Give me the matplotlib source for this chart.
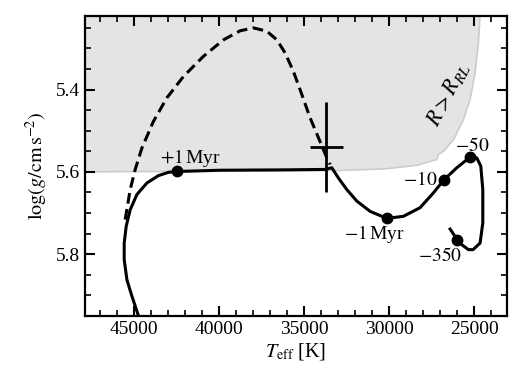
import numpy as np
import matplotlib
matplotlib.use("Agg")
import matplotlib.pyplot as plt
from matplotlib.ticker import MultipleLocator

plt.rcParams['font.family'] = ['Liberation Serif', 'DejaVu Serif']
plt.rcParams['mathtext.fontset'] = 'stix'

#%% data
# evolutionary track (solid), from -350 Myr onwards
track_teff = [26412, 25982, 25723, 25335, 25059, 24647, 24488, 24488, 24606, 24841,
              25235, 26018, 26765, 27394, 28176, 29159, 30135, 31117, 31900, 32488,
              32982, 33370, 33765, 36000, 39940, 42487, 42981, 43570, 44252, 44840,
              45234, 45469, 45587, 45587, 45429, 45134, 44746]
track_logg = [5.739, 5.765, 5.777, 5.789, 5.789, 5.773, 5.724, 5.643, 5.586, 5.566,
              5.564, 5.590, 5.619, 5.651, 5.687, 5.708, 5.713, 5.696, 5.671, 5.643,
              5.615, 5.590, 5.594, 5.595, 5.596, 5.599, 5.601, 5.609, 5.627, 5.655,
              5.692, 5.732, 5.773, 5.813, 5.862, 5.902, 5.950]

# alternative track (dashed)
dash_teff = [45529, 45234, 44940, 44546, 43864, 43076, 42099, 40923, 39746, 38764,
             37982, 37194, 36605, 36117, 35629, 35135, 34646, 34158, 33664, 33470]
dash_logg = [5.716, 5.643, 5.594, 5.542, 5.477, 5.420, 5.368, 5.319, 5.279, 5.257,
             5.250, 5.258, 5.279, 5.311, 5.356, 5.412, 5.469, 5.517, 5.566, 5.582]

# Roche-lobe boundary (R > R_RL above it)
rl_teff = [49000, 37196, 33275, 30333, 28372, 27196, 27098, 26804, 26216,
           25627, 25235, 24941, 24745, 24647, 24600]
rl_logg = [5.600, 5.598, 5.597, 5.593, 5.584, 5.570, 5.558, 5.550, 5.522,
           5.473, 5.424, 5.359, 5.286, 5.218, 5.15]

# age markers
age_teff = [42487, 30135, 26765, 25235, 25982]
age_logg = [5.599, 5.713, 5.619, 5.564, 5.765]
age_labels = [r'$+1\,$Myr', r'$-1\,$Myr', r'$-10$', r'$-50$', r'$-350$']
lab_teff = [41705, 30882, 27150, 25100, 27000]
lab_logg = [5.566, 5.752, 5.619, 5.536, 5.805]
lab_ha = ['center', 'center', 'right', 'center', 'center']

# observed star
obs_teff, obs_teff_err = 33700, 960
obs_logg, obs_logg_err = 5.540, 0.109

#%% plot
fig = plt.figure(figsize=(5.24, 3.89), dpi=100)
ax = fig.add_axes([0.162, 0.188, 0.806, 0.772])

poly_x = rl_teff + [49000]
poly_y = rl_logg + [5.15]
ax.fill(poly_x, poly_y, facecolor='#e4e4e4', edgecolor='#cccccc', lw=1.2, zorder=0)

ax.plot(dash_teff, dash_logg, 'k--', lw=2.2, dashes=(3.5, 1.8), zorder=2)
ax.plot(track_teff, track_logg, 'k-', lw=2.2, zorder=3)
ax.plot(age_teff, age_logg, 'ko', ms=7.5, zorder=4)
for x, y, s, ha in zip(lab_teff, lab_logg, age_labels, lab_ha):
    ax.text(x, y, s, ha=ha, va='center', fontsize=14)

ax.errorbar(obs_teff, obs_logg, xerr=obs_teff_err, yerr=obs_logg_err,
            fmt='none', ecolor='k', elinewidth=2, capsize=0, zorder=5)

ax.text(26512, 5.410, r'$R > R_{RL}$', rotation=63, ha='center', va='center',
        fontsize=16)

ax.set_xlim(47900, 23050)
ax.set_ylim(5.95, 5.22)
ax.xaxis.set_major_locator(MultipleLocator(5000))
ax.xaxis.set_minor_locator(MultipleLocator(1000))
ax.yaxis.set_major_locator(MultipleLocator(0.2))
ax.yaxis.set_minor_locator(MultipleLocator(0.05))
ax.tick_params(which='both', direction='in', top=True, right=True, labelsize=14)
ax.tick_params(which='major', length=7, width=1.5)
ax.tick_params(which='minor', length=4, width=1.2)
for sp in ax.spines.values():
    sp.set_linewidth(1.6)

ax.set_xlabel(r'$T_\mathrm{eff}$ [K]', fontsize=14.5, labelpad=2)
ax.set_ylabel(r'$\log(g/\mathrm{cm\,s^{-2}})$', fontsize=14.5, labelpad=4)

fig.savefig('out.png', dpi=100)
